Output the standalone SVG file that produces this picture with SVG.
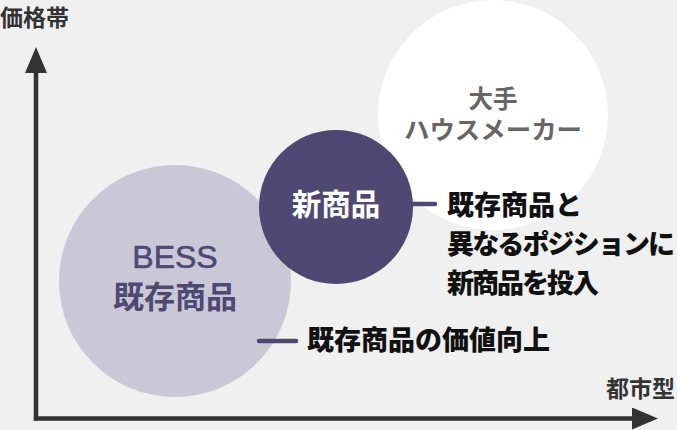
<svg xmlns="http://www.w3.org/2000/svg" width="677" height="430" viewBox="0 0 677 430">
  <style>
    .jp { font-family: "Noto Sans CJK JP", "Noto Sans", sans-serif; }
    .lbl { font-weight: 900; fill: #111111; font-size: 27px; }
    .axl { font-weight: 700; fill: #333333; font-size: 23px; }
    .axis { stroke: #333333; stroke-width: 4.5; fill: none; }
    .conn { stroke: #4e4873; stroke-width: 4.5; stroke-linecap: round; fill: none; }
  </style>
  <defs>
    <marker id="arrow" viewBox="0 0 26 22" refX="1" refY="11" markerWidth="26" markerHeight="22" markerUnits="userSpaceOnUse" orient="auto">
      <path d="M0,0 L26,11 L0,22 Z" fill="#333333"/>
    </marker>
  </defs>
  <rect width="677" height="430" fill="#f0f0f0"/>

  <g id="axes">
    <line class="axis" x1="36" y1="420.5" x2="36" y2="72" marker-end="url(#arrow)"/>
    <line class="axis" x1="33.8" y1="418.5" x2="633" y2="418.5" marker-end="url(#arrow)"/>
    <text class="jp axl" x="0" y="26">価格帯</text>
    <text class="jp axl" x="606" y="397">都市型</text>
  </g>

  <g id="node-maker">
    <circle cx="493" cy="115" r="115" fill="#ffffff"/>
    <text class="jp" x="493" y="107.5" text-anchor="middle" font-size="24.5" font-weight="700" fill="#666666">大手</text>
    <text class="jp" x="493" y="138.5" text-anchor="middle" font-size="24.5" font-weight="700" fill="#666666" textLength="178" lengthAdjust="spacingAndGlyphs">ハウスメーカー</text>
  </g>

  <g id="node-bess">
    <circle cx="175" cy="281" r="116" fill="#cac8d7"/>
    <text x="175" y="268" text-anchor="middle" font-family="Liberation Sans, Arial, sans-serif" font-size="32" font-weight="400" fill="#4e4873" stroke="#4e4873" stroke-width="0.6">BESS</text>
    <text class="jp" x="175" y="308" text-anchor="middle" font-size="31" font-weight="700" fill="#4e4873">既存商品</text>
  </g>

  <g id="node-new">
    <circle cx="336" cy="207" r="77" fill="#4e4873"/>
    <text class="jp" x="336" y="215" text-anchor="middle" font-size="29.5" font-weight="700" fill="#ffffff">新商品</text>
  </g>

  <g id="connectors">
    <line class="conn" x1="413" y1="204" x2="435" y2="204"/>
    <line class="conn" x1="259" y1="341" x2="296" y2="341"/>
  </g>

  <g id="label-new">
    <text class="jp lbl" x="447" y="215">既存商品と</text>
    <text class="jp lbl" x="447" y="254" textLength="228" lengthAdjust="spacing">異なるポジションに</text>
    <text class="jp lbl" x="447" y="293" textLength="152" lengthAdjust="spacing">新商品を投入</text>
  </g>

  <g id="label-bess">
    <text class="jp lbl" x="307" y="350">既存商品の価値向上</text>
  </g>
</svg>
